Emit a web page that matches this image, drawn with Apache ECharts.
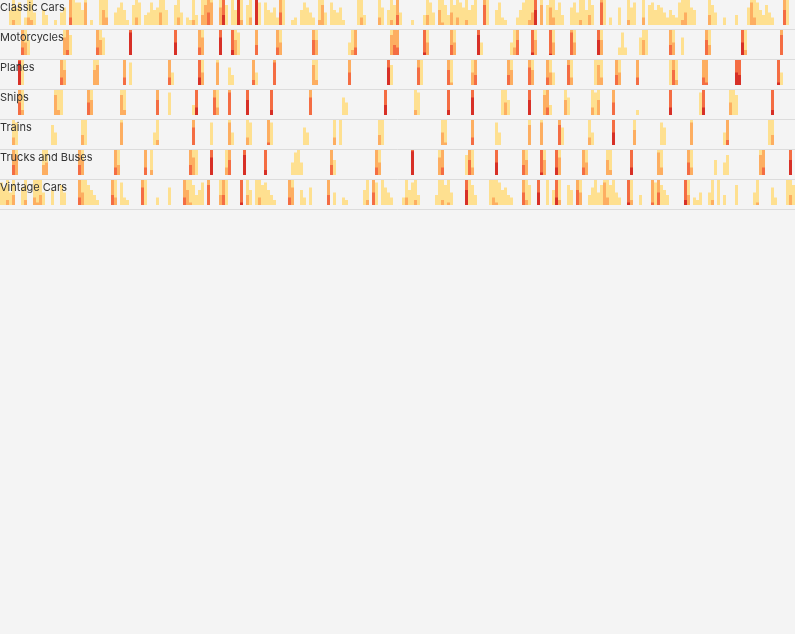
<!DOCTYPE html>
<html><head><meta charset="utf-8">
<script src="https://cdn.jsdelivr.net/npm/echarts@6/dist/echarts.min.js"></script>
<style>html,body{margin:0;padding:0;background:#f4f4f4}#c{width:795px;height:634px}</style>
</head><body><div id="c"></div>
<script>
// Product lines (rows)
const categories = ["Classic Cars","Motorcycles","Planes","Ships","Trains","Trucks and Buses","Vintage Cars"];
// Horizon band colours (band 1 .. band 4)
const bandColors = ["#fee090","#fdae61","#f46d43","#d73027"];
// Time slots 0..264; values in band units (0..4)
const classicCars = [[3,0.6],[4,1.2],[5,0.7],[6,0.9],[8,0.3],[9,1.3],[10,1.2],[11,0.5],[14,0.6],[15,0.4],[18,0.2],[20,0.5],[21,0.7],[23,2.3],[24,1.0],[25,0.9],[26,0.9],[27,0.6],[28,1.9],[30,0.2],[33,1.0],[34,1.6],[35,1.3],[38,0.5],[39,0.7],[40,0.9],[41,0.6],[42,0.2],[44,0.8],[45,1.3],[46,0.9],[48,0.4],[49,0.5],[50,0.9],[51,0.6],[52,0.7],[53,1.5],[54,1.0],[55,0.6],[58,0.8],[59,1.3],[60,0.5],[62,0.3],[63,0.2],[64,1.2],[65,0.4],[67,1.4],[68,1.8],[69,2.5],[70,1.9],[73,1.7],[74,3.4],[75,0.8],[77,1.0],[78,0.6],[79,4.0],[80,1.2],[82,0.8],[83,1.3],[85,4.0],[86,0.9],[88,0.9],[89,0.6],[90,0.5],[91,0.7],[92,0.3],[93,2.5],[94,1.0],[97,0.2],[98,0.3],[100,0.6],[101,0.9],[102,0.7],[103,0.5],[104,0.3],[106,1.2],[107,1.8],[108,0.5],[110,0.9],[111,0.6],[112,0.5],[113,0.7],[114,0.2],[119,1.0],[120,1.3],[121,0.4],[126,1.3],[127,0.7],[129,0.6],[130,1.2],[131,0.8],[132,2.4],[133,0.5],[137,0.2],[141,0.4],[142,1.4],[143,0.9],[144,0.5],[146,1.6],[147,1.1],[148,0.8],[149,0.4],[150,1.5],[151,0.8],[152,1.3],[153,0.9],[154,0.7],[155,1.2],[156,0.6],[157,0.8],[158,1.0],[161,2.8],[162,1.0],[165,0.6],[166,0.9],[167,0.3],[168,0.2],[172,0.3],[173,0.6],[174,0.9],[175,1.0],[176,1.2],[177,1.5],[178,3.6],[180,1.8],[182,0.8],[183,1.7],[184,1.3],[185,0.6],[186,0.9],[187,0.4],[190,0.7],[191,0.9],[192,0.5],[193,1.2],[194,1.0],[195,0.6],[196,1.4],[197,0.8],[200,2.9],[201,1.0],[203,0.3],[206,0.7],[209,1.2],[210,0.7],[211,0.9],[214,1.3],[216,0.8],[217,0.9],[218,0.6],[219,0.8],[220,0.7],[221,0.5],[222,0.3],[223,0.6],[224,0.4],[225,0.3],[226,0.9],[227,1.2],[228,1.5],[229,1.0],[230,0.7],[231,0.6],[236,1.4],[237,0.8],[238,0.5],[241,0.3],[245,0.4],[249,0.7],[250,1.9],[251,1.3],[252,0.9],[253,0.6],[254,0.4],[255,0.8],[256,0.5],[257,0.3],[261,2.6],[262,1.0]];
const motorcycles = [[7,2.3],[8,1.5],[9,0.6],[21,1.7],[22,2.2],[23,0.8],[32,2.3],[33,1.6],[34,0.7],[43,3.9],[58,3.5],[66,2.3],[67,1.7],[73,3.7],[77,3.2],[78,1.6],[79,0.9],[85,2.4],[92,2.3],[93,1.5],[104,2.6],[105,1.6],[116,0.5],[117,1.2],[118,2.3],[130,1.8],[131,2.4],[132,2.3],[141,3.1],[142,1.5],[150,2.4],[151,1.5],[159,3.8],[160,0.5],[170,0.5],[171,1.3],[172,2.6],[177,3.1],[178,1.6],[183,3.05],[184,1.5],[190,2.9],[191,1.5],[199,3.6],[200,1.6],[206,0.3],[207,0.9],[208,0.3],[213,0.7],[214,1.6],[215,1.0],[223,2.4],[224,1.5],[227,0.7],[235,2.6],[236,1.4],[247,3.5],[248,1.2],[260,2.8]];
const planes = [[6,3.95],[7,1.0],[20,2.3],[21,1.6],[31,1.6],[32,1.8],[41,2.3],[43,0.9],[56,2.3],[57,0.5],[66,3.3],[67,1.5],[72,1.9],[76,0.7],[77,0.4],[84,2.2],[85,0.5],[91,2.9],[104,1.8],[105,1.2],[116,2.5],[129,3.7],[130,0.8],[139,2.7],[140,1.0],[149,2.6],[150,1.1],[157,1.5],[158,2.4],[169,2.4],[170,1.6],[176,2.7],[177,1.6],[182,2.3],[183,1.5],[184,0.5],[189,2.8],[190,1.3],[198,1.0],[199,1.8],[200,1.3],[205,2.4],[206,1.5],[212,2.3],[223,1.0],[224,2.6],[225,1.2],[234,2.3],[235,2.1],[245,3.5],[246,3.4],[259,3.1],[260,0.5]];
const ships = [[6,2.5],[7,1.2],[18,1.8],[19,1.2],[20,1.0],[29,2.5],[30,1.6],[40,1.8],[41,1.2],[52,2.6],[56,0.9],[64,0.4],[65,3.3],[71,2.7],[72,1.3],[76,2.9],[82,3.6],[90,3.2],[103,2.7],[114,0.7],[115,0.5],[128,3.4],[138,1.2],[139,0.9],[149,3.2],[157,3.7],[167,1.0],[168,1.5],[169,0.6],[176,3.6],[181,1.8],[182,2.3],[183,0.4],[188,1.6],[189,0.7],[197,1.3],[198,0.9],[199,1.6],[204,2.5],[212,0.2],[223,3.3],[233,0.9],[234,3.3],[243,1.5],[244,1.0],[245,0.8],[257,3.2]];
const trains = [[4,1.3],[5,0.9],[17,0.8],[18,0.5],[27,1.4],[28,1.0],[40,1.9],[51,0.5],[52,1.2],[64,2.7],[70,0.9],[76,1.9],[77,0.5],[82,1.3],[83,0.9],[89,2.1],[90,0.9],[101,0.7],[102,0.5],[111,1.3],[113,1.0],[126,1.4],[127,1.0],[147,1.5],[148,1.1],[157,2.3],[165,0.9],[166,0.5],[176,1.8],[180,1.9],[186,2.8],[187,0.7],[196,1.3],[197,0.5],[204,3.5],[211,1.6],[220,0.9],[221,0.7],[230,1.9],[241,0.5],[242,2.2],[256,1.0],[257,1.4]];
const trucksAndBuses = [[4,2.4],[5,1.8],[14,1.4],[15,1.5],[26,2.4],[27,1.6],[38,2.3],[39,1.4],[48,2.3],[50,1.2],[63,2.4],[64,1.7],[65,1.0],[70,3.7],[75,1.3],[76,2.6],[81,3.8],[88,3.2],[97,0.5],[98,0.9],[99,1.0],[100,0.5],[110,2.4],[111,0.6],[125,2.3],[126,1.5],[137,3.95],[146,1.7],[147,2.3],[155,0.8],[156,2.6],[157,1.3],[165,3.5],[174,2.4],[175,1.6],[180,3.1],[181,1.6],[185,3.3],[186,1.7],[194,2.3],[195,1.5],[202,1.6],[203,1.2],[210,3.3],[219,1.9],[220,1.3],[229,2.5],[230,1.3],[238,0.6],[241,0.5],[242,0.8],[253,1.8],[254,2.3],[263,3.6]];
const vintageCars = [[0,0.9],[1,0.7],[2,1.2],[3,0.5],[4,1.4],[7,0.7],[8,1.2],[11,1.3],[12,1.1],[13,1.4],[14,0.5],[17,0.6],[20,0.8],[21,0.5],[26,2.3],[27,1.5],[28,1.0],[29,0.8],[30,0.6],[31,0.4],[32,0.2],[37,2.4],[38,1.3],[40,0.9],[41,0.3],[42,0.2],[47,2.7],[48,1.0],[52,0.3],[56,0.7],[61,2.3],[62,1.6],[63,1.1],[64,0.8],[65,0.4],[66,0.6],[67,0.9],[69,2.8],[73,1.4],[74,2.4],[75,1.0],[80,3.1],[82,1.4],[83,0.6],[85,1.0],[86,1.3],[87,0.8],[88,0.9],[89,0.6],[90,0.4],[91,0.2],[96,2.3],[97,1.7],[100,0.6],[101,0.3],[103,0.7],[109,2.4],[111,0.5],[114,0.3],[115,0.2],[121,0.6],[122,1.2],[124,2.5],[125,0.9],[127,1.0],[128,0.7],[129,0.5],[130,0.3],[134,0.3],[135,1.3],[136,0.6],[137,0.9],[138,1.2],[139,0.4],[145,0.4],[146,1.0],[147,1.2],[148,0.8],[149,1.1],[150,0.5],[155,3.6],[156,1.0],[157,0.8],[158,0.4],[163,1.0],[164,1.3],[165,1.1],[166,0.9],[167,0.6],[168,0.7],[169,0.4],[170,0.3],[174,2.5],[175,1.2],[176,0.8],[179,3.5],[182,1.0],[184,0.6],[185,3.3],[186,1.2],[189,0.8],[190,0.6],[192,2.6],[193,1.5],[196,0.4],[197,0.7],[198,1.0],[199,0.5],[200,0.8],[201,1.9],[202,1.3],[203,0.8],[204,1.0],[205,0.5],[206,0.3],[209,3.1],[210,1.2],[213,0.4],[217,2.1],[218,0.9],[219,2.5],[220,0.8],[221,0.6],[222,0.4],[228,3.2],[229,1.4],[231,0.3],[232,0.2],[233,0.5],[236,0.5],[237,1.2],[239,1.0],[241,0.4],[245,0.8],[251,0.5],[252,1.1],[257,0.7],[258,0.3],[262,1.0],[263,1.4],[264,0.8]];
const rows = [classicCars, motorcycles, planes, ships, trains, trucksAndBuses, vintageCars];
const slotCount = 265;

const chart = echarts.init(document.getElementById('c'), null, {renderer:'canvas'});
const grid = [], xAxis = [], yAxis = [], series = [], title = [];
const rowH = 30, barH = 25, gridH = 29;
rows.forEach((data, i) => {
  grid.push({left:0, right:0, top:i*rowH, height:gridH});
  xAxis.push({type:'value', gridIndex:i, min:-0.5, max:slotCount-0.5,
    axisLine:{show:true, onZero:false, lineStyle:{color:'#dcdcdc', width:1}},
    axisTick:{show:false}, axisLabel:{show:false}, splitLine:{show:false}});
  // value 0..1 spans the top 25px; the remaining 4px form the gap above the separator
  yAxis.push({type:'value', gridIndex:i, min:-(gridH-barH)/barH, max:1, show:false});
  title.push({text:categories[i], left:0, top:i*rowH+2, padding:0,
    textStyle:{fontSize:11, fontWeight:'normal', color:'#333', fontFamily:'Inter, sans-serif'}});
  bandColors.forEach((col, k) => {
    series.push({type:'bar', xAxisIndex:i, yAxisIndex:i, barWidth:3, barGap:'-100%',
      itemStyle:{color:col}, silent:true, animation:false, z:2+k,
      data: data.map(d => [d[0], Math.max(0, Math.min(1, d[1]-k))])});
  });
});
chart.setOption({backgroundColor:'#f4f4f4', animation:false, title, grid, xAxis, yAxis, series});
</script></body></html>
